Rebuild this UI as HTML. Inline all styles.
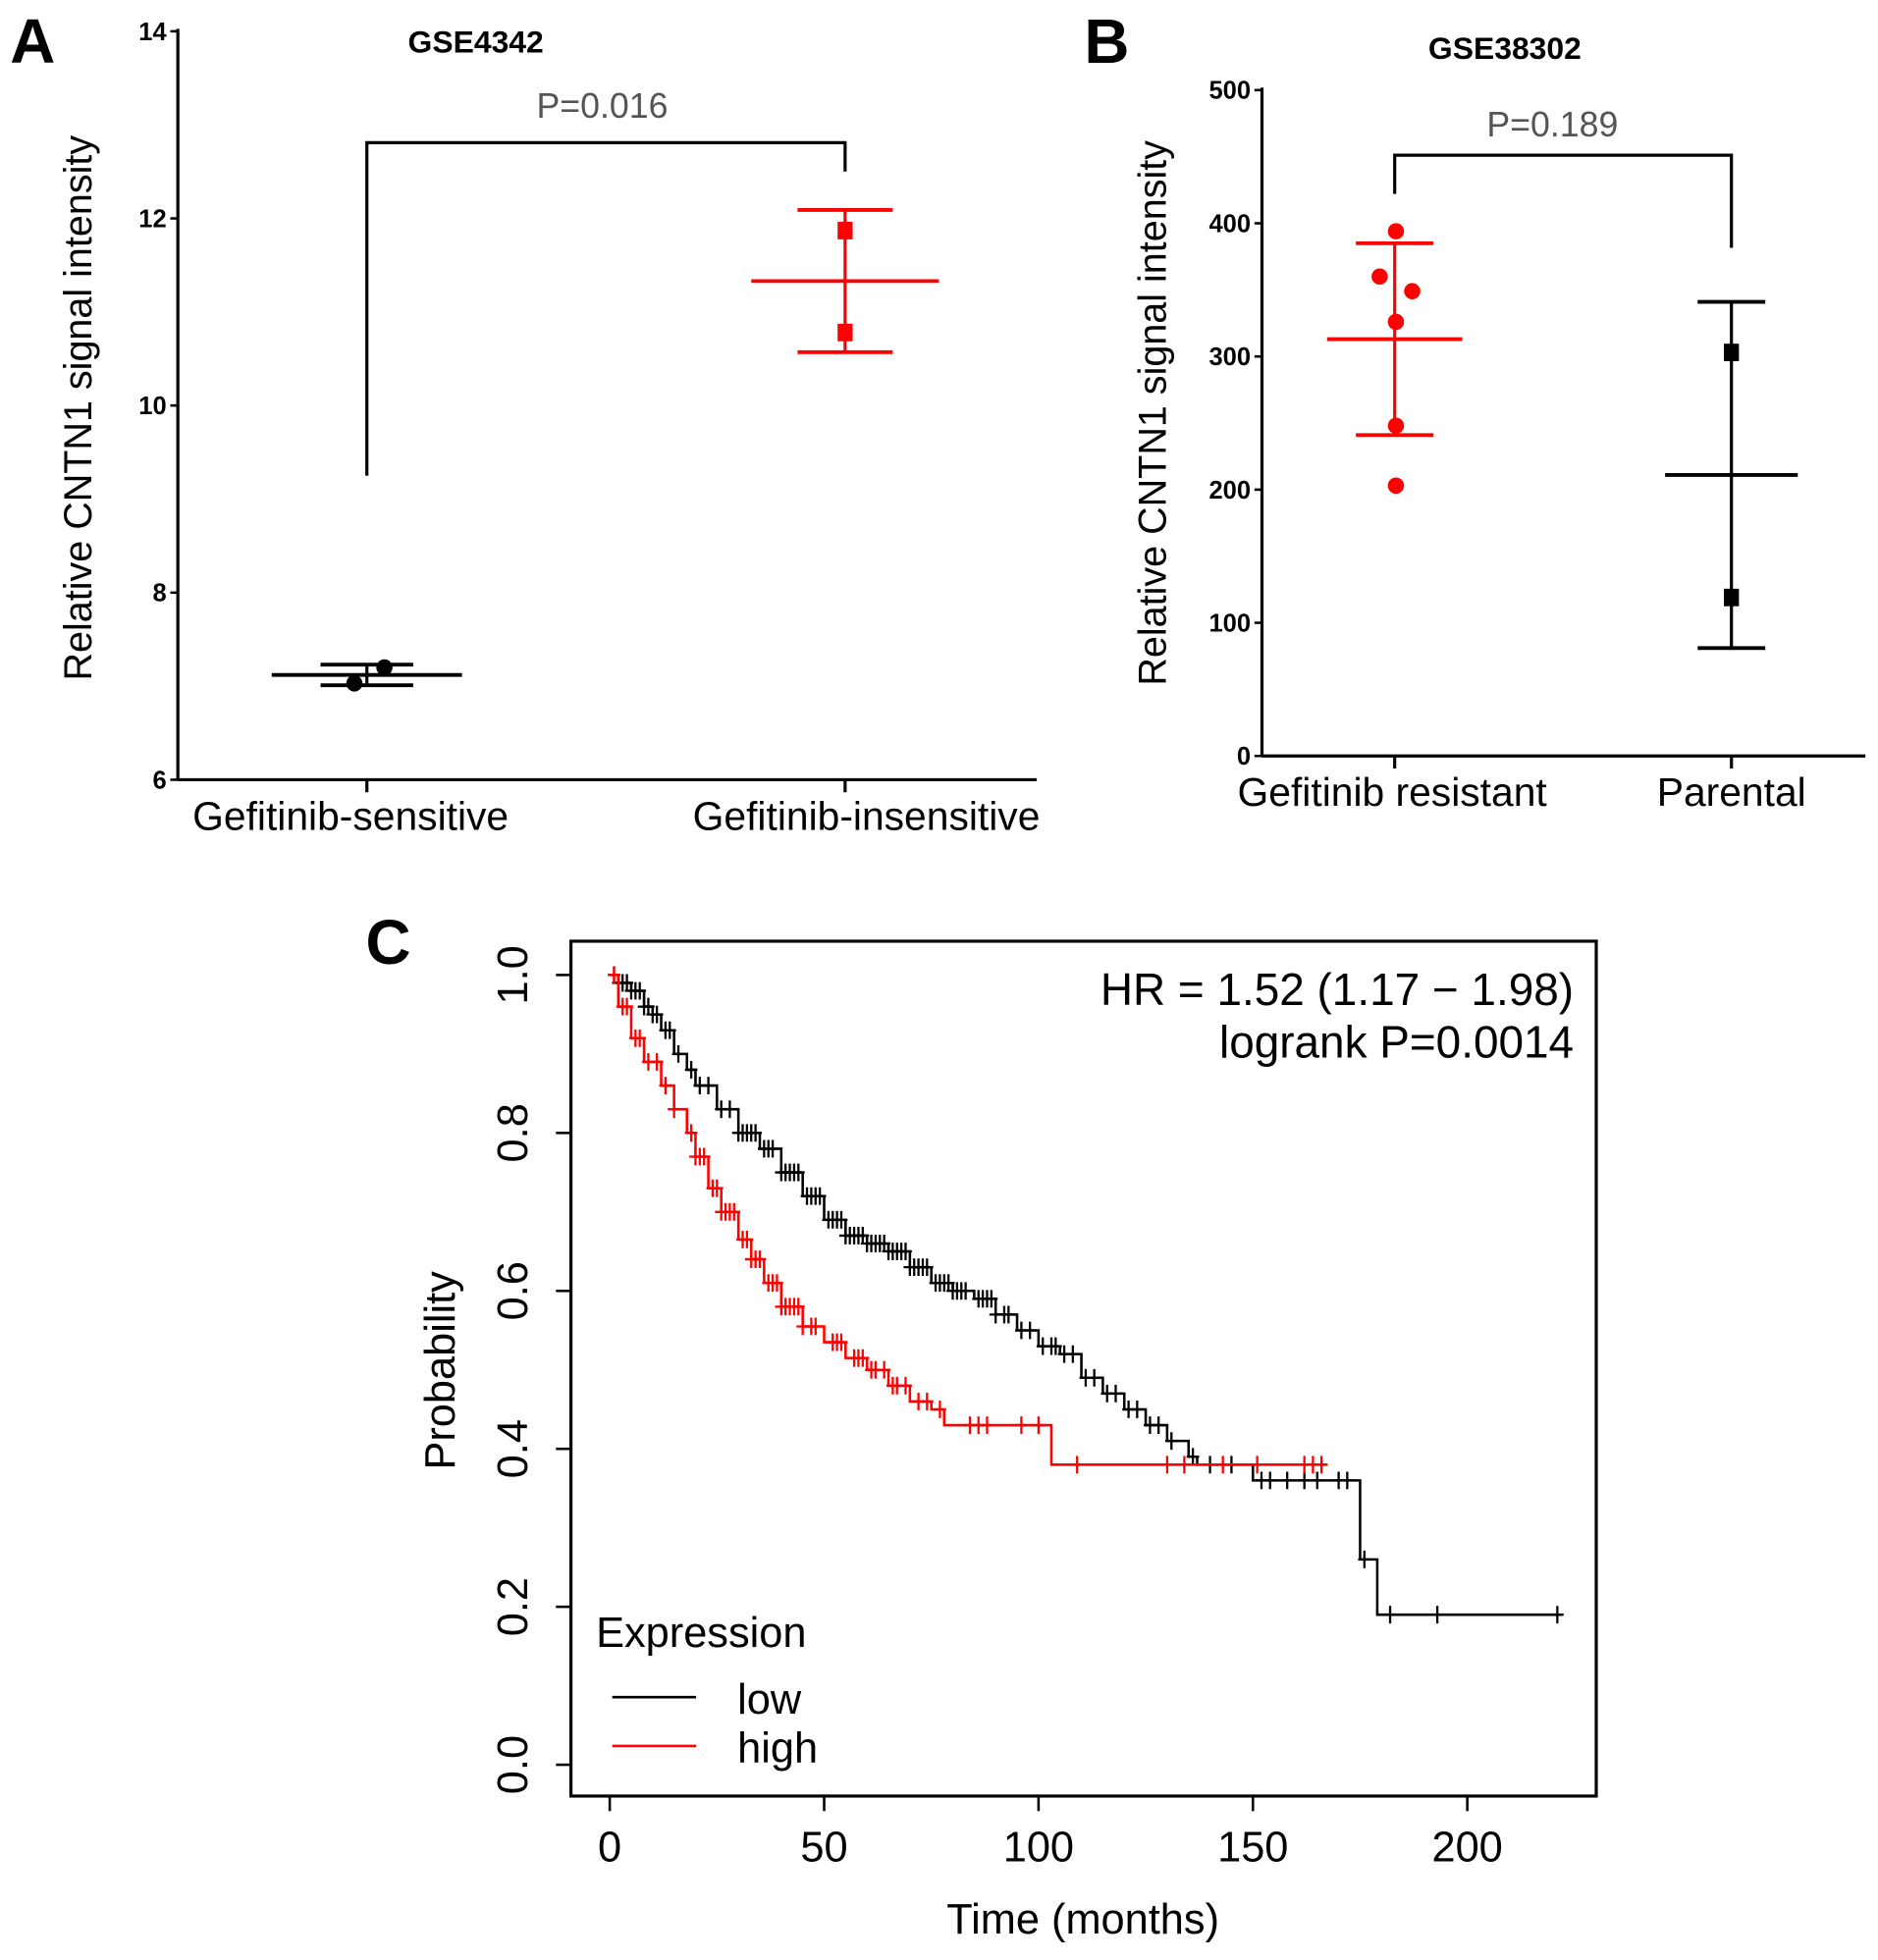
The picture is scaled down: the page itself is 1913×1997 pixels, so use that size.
<!DOCTYPE html>
<html><head><meta charset="utf-8"><style>
html,body{margin:0;padding:0;background:#fff;}
svg{display:block;}
text{font-family:"Liberation Sans",sans-serif;}
</style></head><body>
<svg id="fig" width="1913" height="1997" viewBox="0 0 1500 1566" xmlns="http://www.w3.org/2000/svg">
<rect x="0" y="0" width="1500" height="1566" fill="#fff"/>
<g id="pa"></g>
<g id="pb"></g>
<g id="pc"></g>
</svg>
<script>
// Panel A data
const aCategories = ["Gefitinib-sensitive", "Gefitinib-insensitive"];
const aMeans = [7.12, 11.33];
const aSD = [0.11, 0.76];
const aPoints = [[7.03, 7.2], [11.87, 10.78]];
const aTicks = [6, 8, 10, 12, 14];
// Panel B data
const bCategories = ["Gefitinib resistant", "Parental"];
const bMeans = [313, 211];
const bSD = [72, 130];
const bPoints = [[394, 360, 349, 326, 248, 203], [303, 119]];
const bTicks = [0, 100, 200, 300, 400, 500];
// Panel C data (Kaplan-Meier steps)
const lowTimes = [0,2,5,8,10,12,15,18,20,25,30,35,40,45,50,55,60,65,70,75,80,85,90,95,100,105,110,115,120,125,130,135,137,150,175,179];
const lowSurv = [1.0,0.99,0.98,0.96,0.95,0.93,0.90,0.88,0.86,0.83,0.80,0.78,0.75,0.72,0.69,0.67,0.66,0.65,0.63,0.61,0.60,0.59,0.57,0.55,0.53,0.52,0.49,0.47,0.45,0.43,0.41,0.39,0.38,0.36,0.26,0.19];
const lowEnd = 222;
const lowCensor = [1,2,3,4,5,6,7,8,9,10,11,13,14,16,19,21,23,26,28,30,31,32,33,34,36,37,38,40,41,42,43,44,46,47,48,49,51,52,53,54,55,56,57,58,59,60,61,62,63,64,65,66,67,68,69,70,71,72,73,74,76,77,78,79,80,81,82,83,86,87,88,89,90,92,93,96,98,101,103,104,106,108,111,113,116,118,121,123,126,128,131,136,140,145,152,154,158,162,165,170,172,176,182,193,221];
const highTimes = [0,2,5,8,12,15,18,20,23,26,30,33,36,40,45,50,55,60,65,70,75,78,103];
const highSurv = [1.0,0.96,0.92,0.89,0.86,0.83,0.80,0.77,0.73,0.70,0.665,0.64,0.61,0.58,0.555,0.535,0.515,0.50,0.48,0.46,0.45,0.43,0.38];
const highEnd = 167;
const highCensor = [1,3,4,6,7,9,11,13,15,19,20,21,22,24,25,26,27,28,29,31,32,33,34,35,37,38,39,40,41,42,43,44,45,47,48,52,53,54,57,58,59,61,62,64,66,67,69,72,74,77,84,86,88,96,100,109,130,134,143,151,162,164,166];
const cXTicks = [0, 50, 100, 150, 200];
const cYTicks = [0.0, 0.2, 0.4, 0.6, 0.8, 1.0];

const NS = "http://www.w3.org/2000/svg";
function mk(parent, tag, attrs, txt){
  const el = document.createElementNS(NS, tag);
  for (const k in attrs) el.setAttribute(k, attrs[k]);
  if (txt !== undefined) el.textContent = txt;
  parent.appendChild(el);
  return el;
}
const pa = document.getElementById('pa'), pb = document.getElementById('pb'), pc = document.getElementById('pc');

function dotPanel(g, o){
  const y = v => o.y0 - (v - o.vmin) / (o.vmax - o.vmin) * (o.y0 - o.y1);
  let t;
  t = mk(g,'text',{x:o.lx,y:o.ly,'font-size':50,'font-weight':'bold','font-family':'Liberation Sans Narrow, Liberation Sans, sans-serif'},o.letter);
  
  
  t = mk(g,'text',{x:o.tx,y:o.ty,'font-size':25,'font-weight':'bold','text-anchor':'middle'},o.title);
  
  
  let l = mk(g,'line',{x1:o.ax,y1:o.y1-2,x2:o.ax,y2:o.y0,stroke:'#000','stroke-width':2.5});
  
  
  l = mk(g,'line',{x1:o.ax,y1:o.y0,x2:o.xend,y2:o.y0,stroke:'#000','stroke-width':2.5});
  
  
  o.ticks.forEach(v=>{
    const tk = mk(g,'line',{x1:o.ax-6,y1:y(v),x2:o.ax,y2:y(v),stroke:'#000','stroke-width':2});
    
    
    const tl = mk(g,'text',{x:o.ax-9,y:y(v)+7,'font-size':20,'font-weight':'bold','text-anchor':'end','font-family':'Liberation Sans Narrow, Liberation Sans, sans-serif'},String(v));
    
    
  });
  t = mk(g,'text',{x:0,y:0,'font-size':31,'text-anchor':'middle',transform:`translate(${o.ylx},${o.yly}) rotate(-90)`},'Relative CNTN1 signal intensity');
  
  
  o.cats.forEach((c,i)=>{
    const cx = o.cx[i];
    const tk = mk(g,'line',{x1:cx,y1:o.y0,x2:cx,y2:o.y0+10,stroke:'#000','stroke-width':2.5});
    
    
    const tl = mk(g,'text',{x:cx + (o.labOff?o.labOff[i]:0),y:o.y0+40,'font-size':32,'text-anchor':'middle'},c);
    
    
    const col = o.colors[i];
    const grp = mk(g,'g',{});
    
    
    const m = o.means[i], s = o.sd[i];
    const cw = o.capW[i], mw = o.meanW[i];
    let e = mk(grp,'line',{x1:cx,y1:y(m+s),x2:cx,y2:y(m-s),stroke:col,'stroke-width':2.5});
    
    
    [m+s, m-s].forEach(v=>{
      const c2 = mk(grp,'line',{x1:cx-cw,y1:y(v),x2:cx+cw,y2:y(v),stroke:col,'stroke-width':3});
      
      
    });
    e = mk(grp,'line',{x1:cx-mw,y1:y(m),x2:cx+mw,y2:y(m),stroke:col,'stroke-width':3});
    
    
    o.pts[i].forEach((v,j)=>{
      const px = cx + o.jit[i][j];
      let p;
      if (o.shape[i]==='sq') p = mk(grp,'rect',{x:px-6,y:y(v)-7,width:12,height:14,fill:col});
      else p = mk(grp,'circle',{cx:px,cy:y(v),r:6.5,fill:col});
      
      
    });
  });
  const br = mk(g,'polyline',{points:`${o.cx[0]},${o.br[0]} ${o.cx[0]},${o.br[1]} ${o.cx[1]},${o.br[1]} ${o.cx[1]},${o.br[2]}`,fill:'none',stroke:'#000','stroke-width':2.5});
  
  
  t = mk(g,'text',{x:o.px,y:o.py,'font-size':28,'text-anchor':'middle',fill:'#555'},o.ptxt);
  
  
}

dotPanel(pa,{letter:'A',lx:8,ly:50,title:'GSE4342',tx:380,ty:42,ax:142,xend:828,y0:623,y1:25,vmin:6,vmax:14,ticks:aTicks,
  ylx:73,yly:326,cats:aCategories,cx:[293,675],labOff:[-13,17],colors:['#000','#f00'],means:aMeans,sd:aSD,pts:aPoints,
  capW:[37,38],meanW:[76,75],shape:['c','sq'],jit:[[-10,14],[0,0]],br:[380,114,137],px:481,py:94,ptxt:'P=0.016'});
dotPanel(pb,{letter:'B',lx:866,ly:50,title:'GSE38302',tx:1202,ty:47,ax:1008,xend:1490,y0:604,y1:72,vmin:0,vmax:500,ticks:bTicks,
  ylx:931,yly:330,cats:bCategories,cx:[1114,1383],labOff:[-2,0],colors:['#f00','#000'],means:bMeans,sd:bSD,pts:bPoints,
  capW:[31,27],meanW:[54,53],shape:['c','sq'],jit:[[1,-12,14,1,1,1],[0,0]],br:[155,124,198],px:1240,py:109,ptxt:'P=0.189'});

// Panel C
(function(){
  const g = pc;
  const X = t => 487 + t * (1172-487)/200;
  const Y = s => 1410 - s * (1410-779);
  let t = mk(g,'text',{x:292,y:770,'font-size':50,'font-weight':'bold','font-family':'Liberation Sans Narrow, Liberation Sans, sans-serif'},'C');
  
  
  const box = mk(g,'rect',{x:456,y:752,width:819,height:683,fill:'none',stroke:'#000','stroke-width':2.5});
  
  
  cXTicks.forEach(v=>{
    const l = mk(g,'line',{x1:X(v),y1:1435,x2:X(v),y2:1447,stroke:'#000','stroke-width':2});
    
    
    const tl = mk(g,'text',{x:X(v),y:1487,'font-size':34,'text-anchor':'middle'},String(v));
    
    
  });
  cYTicks.forEach(v=>{
    const l = mk(g,'line',{x1:444,y1:Y(v),x2:456,y2:Y(v),stroke:'#000','stroke-width':2});
    
    
    const tl = mk(g,'text',{x:0,y:0,'font-size':34,'text-anchor':'middle',transform:`translate(421,${Y(v)}) rotate(-90)`},v.toFixed(1));
    
    
  });
  t = mk(g,'text',{x:865,y:1545,'font-size':34,'text-anchor':'middle'},'Time (months)');
  
  
  t = mk(g,'text',{x:0,y:0,'font-size':34,'text-anchor':'middle',transform:'translate(363,1095) rotate(-90)'},'Probability');
  
  
  t = mk(g,'text',{x:1257,y:803,'font-size':36,'text-anchor':'end'},'HR = 1.52 (1.17 \u2212 1.98)');
  
  
  t = mk(g,'text',{x:1257,y:845,'font-size':36,'text-anchor':'end'},'logrank P=0.0014');
  
  

  function km(times, surv, end, cens, col, name){
    const grp = mk(g,'g',{});
    
    
    let d = `M${X(times[0])},${Y(surv[0])}`;
    for (let i=1;i<times.length;i++){ d += ` H${X(times[i])} V${Y(surv[i])}`; }
    d += ` H${X(end)}`;
    const p = mk(grp,'path',{d:d,fill:'none',stroke:col,'stroke-width':2});
    
    
    const sAt = tt => { let s = surv[0]; for (let i=0;i<times.length;i++) if (times[i]<=tt) s = surv[i]; return s; };
    cens.forEach(c=>{
      const cx = X(c), cy = Y(sAt(c));
      const m = mk(grp,'path',{d:`M${cx-5},${cy} H${cx+5} M${cx},${cy-7} V${cy+7}`,stroke:col,'stroke-width':1.8});
      
      
    });
  }
  km(lowTimes, lowSurv, lowEnd, lowCensor, '#000', 'series-low');
  km(highTimes, highSurv, highEnd, highCensor, '#f00', 'series-high');

  const lg = mk(g,'g',{});
  
  
  t = mk(lg,'text',{x:476,y:1316,'font-size':34},'Expression');
  
  
  let l = mk(lg,'line',{x1:489,y1:1356,x2:556,y2:1356,stroke:'#000','stroke-width':2});
  
  
  t = mk(lg,'text',{x:589,y:1369,'font-size':34},'low');
  
  
  l = mk(lg,'line',{x1:489,y1:1395,x2:556,y2:1395,stroke:'#f00','stroke-width':2});
  
  
  t = mk(lg,'text',{x:589,y:1408,'font-size':34},'high');
  
  
})();
</script>
</body></html>
